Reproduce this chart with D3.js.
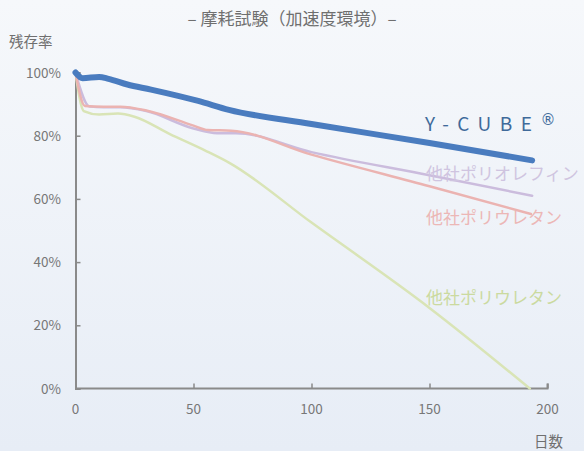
<!DOCTYPE html>
<html>
<head>
<meta charset="utf-8">
<script src="https://cdn.jsdelivr.net/npm/d3@7"></script>
<style>
  body { margin: 0; }
  svg { display: block; font-family: "Noto Sans CJK JP", "Noto Sans", sans-serif; }
</style>
</head>
<body>
<div id="chart"></div>
<script>
// data (x = days, y = remaining %)
var days_ycube = [0, 3, 10, 14, 22, 32, 52, 65, 100, 150, 193.5];
var ycube      = [100, 98.2, 98.6, 98.0, 96.2, 94.6, 91.0, 88.2, 83.7, 77.7, 72.2];

var days_olefin = [0, 6, 12, 19, 30, 50, 60, 68, 100, 150, 193.5];
var olefin      = [100, 89.2, 89.0, 89.0, 87.8, 82.3, 80.8, 80.8, 74.8, 67.5, 61.0];

var days_ureA = [0, 4, 12, 19, 30, 50, 56, 66, 100, 150, 193];
var ureA      = [100, 89.4, 89.2, 89.2, 88.0, 83.2, 81.8, 81.6, 74.0, 64.0, 55.2];

var days_ureB = [0, 3.5, 10, 18, 25, 40, 55, 65, 100, 150, 192.5];
var ureB      = [100, 87.8, 86.7, 87.0, 86.0, 80.5, 75.3, 71.5, 52.5, 25.5, 0];

var xTicks = [0, 50, 100, 150, 200];
var yTicks = [0, 20, 40, 60, 80, 100];

var W = 584, H = 451;
var svg = d3.select("#chart").append("svg").attr("width", W).attr("height", H);

var defs = svg.append("defs");
var grad = defs.append("linearGradient").attr("id", "bg").attr("x1", 0).attr("y1", 0).attr("x2", 0).attr("y2", 1);
grad.append("stop").attr("offset", "0%").attr("stop-color", "#f6f8fb");
grad.append("stop").attr("offset", "100%").attr("stop-color", "#e7edf6");
svg.append("rect").attr("width", W).attr("height", H).attr("fill", "url(#bg)");

var x = d3.scaleLinear().domain([0, 200]).range([75.5, 547.5]);
var y = d3.scaleLinear().domain([0, 100]).range([388.5, 72.5]);

// axes, ticks point inward
var xAxis = svg.append("g").attr("transform", "translate(0," + y(0) + ")")
  .call(d3.axisTop(x).tickValues(xTicks).tickSize(5).tickFormat(""));
var yAxis = svg.append("g").attr("transform", "translate(" + x(0) + ",0)")
  .call(d3.axisRight(y).tickValues(yTicks).tickSize(5).tickFormat(""));
[xAxis, yAxis].forEach(function (g) {
  g.select(".domain").attr("stroke", "#8a8a8a").attr("stroke-width", 2);
  g.selectAll(".tick line").attr("stroke", "#8a8a8a").attr("stroke-width", 1.5);
});
xAxis.select(".domain").attr("d", "M" + x(0) + ",0H" + x(200) + "V-5");

svg.append("g").selectAll("text").data(xTicks).enter().append("text")
  .attr("x", function (d) { return x(d); })
  .attr("y", 414)
  .attr("text-anchor", "middle")
  .attr("font-size", 13.5).attr("fill", "#777")
  .text(function (d) { return d; });

svg.append("g").selectAll("text").data(yTicks).enter().append("text")
  .attr("x", 61)
  .attr("y", function (d) { return y(d) + 5; })
  .attr("text-anchor", "end")
  .attr("font-size", 13.5).attr("fill", "#777")
  .text(function (d) { return d + "%"; });

var line = d3.line()
  .x(function (d) { return x(d[0]); })
  .y(function (d) { return y(d[1]); })
  .curve(d3.curveMonotoneX);

function draw(days, vals, color, width) {
  svg.append("path")
    .datum(d3.zip(days, vals))
    .attr("fill", "none")
    .attr("stroke", color)
    .attr("stroke-width", width)
    .attr("stroke-linecap", "round")
    .attr("stroke-linejoin", "round")
    .attr("d", line);
}
draw(days_ureB, ureB, "#d9e4b6", 2.5);
draw(days_olefin, olefin, "#cbbcdd", 2.5);
draw(days_ureA, ureA, "#ebb3b1", 2.5);
draw(days_ycube, ycube, "#4a7cbf", 6);

// title and axis names
svg.append("text").attr("x", 292).attr("y", 25).attr("text-anchor", "middle")
  .attr("font-size", 17).attr("fill", "#6f6f6f").text("– 摩耗試験（加速度環境）–");
svg.append("text").attr("x", 9).attr("y", 47)
  .attr("font-size", 14.5).attr("fill", "#6f6f6f").text("残存率");
svg.append("text").attr("x", 534).attr("y", 447)
  .attr("font-size", 14.5).attr("fill", "#6f6f6f").text("日数");

// series labels
var yc = svg.append("text").attr("x", 425).attr("y", 131)
  .attr("font-size", 19).attr("fill", "#3f6a9a").attr("letter-spacing", 8.5);
yc.append("tspan").text("Y-CUBE");
yc.append("tspan").attr("font-family", "DejaVu Sans").attr("font-size", 15).attr("dy", -6).text("®");

svg.append("text").attr("x", 426).attr("y", 180)
  .attr("font-size", 17).attr("fill", "#cfc4e0").text("他社ポリオレフィン");
svg.append("text").attr("x", 426).attr("y", 224)
  .attr("font-size", 17).attr("fill", "#ecb7b6").text("他社ポリウレタン");
svg.append("text").attr("x", 426).attr("y", 304)
  .attr("font-size", 17).attr("fill", "#cbda9f").text("他社ポリウレタン");
</script>
</body>
</html>
